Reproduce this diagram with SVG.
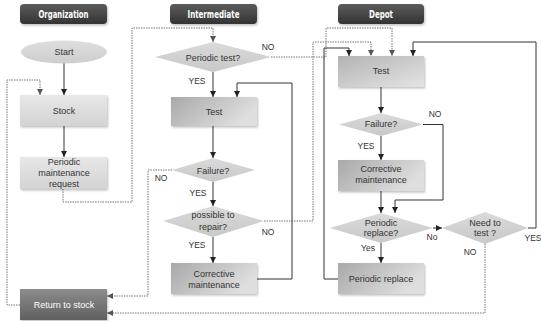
<svg xmlns="http://www.w3.org/2000/svg" width="541" height="321" viewBox="0 0 541 321">
<defs>
<linearGradient id="gHead" x1="0" y1="0" x2="0" y2="1"><stop offset="0" stop-color="#5c5c5c"/><stop offset="1" stop-color="#333"/></linearGradient>
<linearGradient id="gLight" x1="0" y1="0" x2="0" y2="1"><stop offset="0" stop-color="#e8e8e8"/><stop offset="1" stop-color="#d3d3d3"/></linearGradient>
<linearGradient id="gMid" x1="0" y1="0" x2="1" y2="0.4"><stop offset="0" stop-color="#a9a9a9"/><stop offset="1" stop-color="#dedede"/></linearGradient>
<linearGradient id="gDiag" x1="0" y1="0" x2="1" y2="1"><stop offset="0" stop-color="#b3b3b3"/><stop offset="1" stop-color="#e4e4e4"/></linearGradient>
<linearGradient id="gDark" x1="0" y1="0" x2="0" y2="1"><stop offset="0" stop-color="#8c8c8c"/><stop offset="1" stop-color="#606060"/></linearGradient>
<linearGradient id="gDia" x1="0" y1="0" x2="0" y2="1"><stop offset="0" stop-color="#dadada"/><stop offset="1" stop-color="#c8c8c8"/></linearGradient>
<linearGradient id="gEll" x1="0" y1="0" x2="0" y2="1"><stop offset="0" stop-color="#dedede"/><stop offset="1" stop-color="#cdcdcd"/></linearGradient>
<filter id="sh" x="-10%" y="-10%" width="125%" height="130%"><feDropShadow dx="1" dy="1.5" stdDeviation="1" flood-color="#000" flood-opacity="0.25"/></filter>
<marker id="ar" viewBox="0 0 6 6" refX="6" refY="3" markerWidth="6" markerHeight="6" markerUnits="userSpaceOnUse" orient="auto"><path d="M0,0 L6,3 L0,6 z" fill="#222"/></marker>
<marker id="ard" viewBox="0 0 6 6" refX="6" refY="3" markerWidth="6" markerHeight="6" markerUnits="userSpaceOnUse" orient="auto"><path d="M0,0 L6,3 L0,6 z" fill="#555"/></marker>
</defs>
<style>
text{font-family:"Liberation Sans",Arial,sans-serif;font-size:9px;fill:#333;text-anchor:middle}
.h{font-family:"Liberation Sans Narrow","DejaVu Sans Condensed",sans-serif;font-weight:bold;font-size:11px;fill:#fff}
.w{fill:#fff}
.lab{font-size:8.5px;fill:#333}
.s{fill:none;stroke:#333;stroke-width:1}
.d{fill:none;stroke:#666;stroke-width:0.9;stroke-dasharray:1.5 1}
</style>

<g id="headers">
<rect x="20" y="4" width="87" height="20" rx="4" fill="url(#gHead)" filter="url(#sh)"/>
<text class="h" x="63.5" y="18" textLength="50" lengthAdjust="spacingAndGlyphs">Organization</text>
<rect x="170" y="4" width="87" height="20" rx="4" fill="url(#gHead)" filter="url(#sh)"/>
<text class="h" x="213.5" y="18" textLength="52" lengthAdjust="spacingAndGlyphs">Intermediate</text>
<rect x="338" y="4" width="86" height="20" rx="4" fill="url(#gHead)" filter="url(#sh)"/>
<text class="h" x="381" y="18" textLength="24" lengthAdjust="spacingAndGlyphs">Depot</text>
</g>

<g id="connectors">
<path class="s" d="M64,63 V95" marker-end="url(#ar)"/>
<path class="s" d="M64,126 V157" marker-end="url(#ar)"/>
<path class="d" d="M20,305 H7 V80 H40 V95" marker-end="url(#ard)"/>
<path class="d" d="M63,189 V202 H132 V28 H213 V42" marker-end="url(#ard)"/>
<path class="s" d="M213,72 V97" marker-end="url(#ar)"/>
<path class="d" d="M271,57 H326 V28 H392 V56" marker-end="url(#ard)"/>
<path class="s" d="M213,126 V158" marker-end="url(#ar)"/>
<path class="d" d="M172,170 H148 V296 H107" marker-end="url(#ard)"/>
<path class="s" d="M213,182 V206" marker-end="url(#ar)"/>
<path class="d" d="M264,221 H313 V42 H371 V56" marker-end="url(#ard)"/>
<path class="s" d="M213,237 V263" marker-end="url(#ar)"/>
<path class="s" d="M257,279 H292 V83 H237 V97" marker-end="url(#ar)"/>
<path class="s" d="M381,87 V113" marker-end="url(#ar)"/>
<path class="s" d="M381,136 V160" marker-end="url(#ar)"/>
<path class="s" d="M423,124.5 H443 V200 H395 V213" marker-end="url(#ar)"/>
<path class="s" d="M381,191 V213" marker-end="url(#ar)"/>
<path class="s" d="M433,228 H442" marker-end="url(#ar)"/>
<path class="s" d="M381,243 V263" marker-end="url(#ar)"/>
<path class="s" d="M528,228 H536 V42 H413 V56" marker-end="url(#ar)"/>
<path class="d" d="M485,244 V313 H107" marker-end="url(#ard)"/>
<path class="s" d="M338,279 H324 V48 H349 V56" marker-end="url(#ar)"/>
</g>

<g id="labels">
<text class="lab" x="268" y="50">NO</text>
<text class="lab" x="197" y="84">YES</text>
<text class="lab" x="161" y="181">NO</text>
<text class="lab" x="198" y="196">YES</text>
<text class="lab" x="268" y="235">NO</text>
<text class="lab" x="197" y="248">YES</text>
<text class="lab" x="435" y="117">NO</text>
<text class="lab" x="366" y="149">YES</text>
<text class="lab" x="432" y="240">No</text>
<text class="lab" x="368" y="251">Yes</text>
<text class="lab" x="470" y="255">NO</text>
<text class="lab" x="533" y="241">YES</text>
</g>

<g id="start">
<ellipse cx="64" cy="52" rx="43" ry="11.5" fill="url(#gEll)"/>
<text x="64" y="55">Start</text>
</g>
<g id="stock">
<rect x="20" y="95" width="87" height="31" fill="url(#gLight)" filter="url(#sh)"/>
<text x="64" y="114">Stock</text>
</g>
<g id="pmr">
<rect x="20" y="157" width="87" height="32" fill="url(#gLight)" filter="url(#sh)"/>
<text x="64" y="165">Periodic</text>
<text x="64" y="176">maintenance</text>
<text x="64" y="187">request</text>
</g>
<g id="return">
<rect x="20" y="289" width="87" height="31" fill="url(#gDark)" filter="url(#sh)"/>
<text class="w" x="64" y="308">Return to stock</text>
</g>

<g id="periodic-test">
<polygon points="155,57 213,42 271,57 213,72" fill="url(#gDia)"/>
<text x="213" y="61">Periodic test?</text>
</g>
<g id="test-int">
<rect x="171" y="97" width="86" height="29" fill="url(#gMid)" filter="url(#sh)"/>
<text x="214" y="115">Test</text>
</g>
<g id="failure-int">
<polygon points="172,170 213,158 255,170 213,182" fill="url(#gDia)"/>
<text x="213" y="174">Failure?</text>
</g>
<g id="repair">
<polygon points="163,221 213,206 264,221 213,237" fill="url(#gDia)"/>
<text x="213" y="218">possible to</text>
<text x="213" y="230">repair?</text>
</g>
<g id="cm-int">
<rect x="171" y="263" width="86" height="31" fill="url(#gMid)" filter="url(#sh)"/>
<text x="214" y="277">Corrective</text>
<text x="214" y="288">maintenance</text>
</g>

<g id="test-depot">
<rect x="338" y="56" width="86" height="31" fill="url(#gDiag)" filter="url(#sh)"/>
<text x="381" y="74">Test</text>
</g>
<g id="failure-depot">
<polygon points="339,124.5 381,113 423,124.5 381,136" fill="url(#gDia)"/>
<text x="381" y="127">Failure?</text>
</g>
<g id="cm-depot">
<rect x="338" y="160" width="86" height="31" fill="url(#gMid)" filter="url(#sh)"/>
<text x="381" y="172">Corrective</text>
<text x="381" y="183">maintenance</text>
</g>
<g id="periodic-replace-q">
<polygon points="330,228 381,213 433,228 381,243" fill="url(#gDia)"/>
<text x="381" y="226">Periodic</text>
<text x="381" y="236">replace?</text>
</g>
<g id="need-test">
<polygon points="442,228 485,212 528,228 485,244" fill="url(#gDia)"/>
<text x="485" y="226">Need to</text>
<text x="485" y="236">test ?</text>
</g>
<g id="periodic-replace">
<rect x="338" y="263" width="86" height="31" fill="url(#gMid)" filter="url(#sh)"/>
<text x="381" y="282">Periodic replace</text>
</g>
</svg>
